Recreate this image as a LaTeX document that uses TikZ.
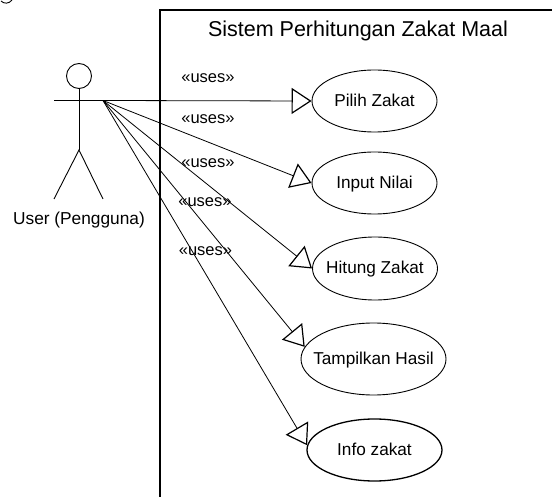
\documentclass[tikz,border=0pt]{standalone}
\usepackage{fontspec}
\setmainfont{Liberation Sans}
\usetikzlibrary{arrows.meta, shapes.geometric}
\tikzset{
    usecase/.style={draw, ellipse, inner sep=-12pt, text height=12pt, text depth=1pt, font=\fontsize{17.2}{20}\selectfont},
    uses/.style={font=\fontsize{16.5}{20}\selectfont},
    assoc/.style={-{Triangle[open, length=20pt, width=26pt, line width=1.2pt]}, line width=0.8pt}
}
\begin{document}
\begin{tikzpicture}[x=1pt, y=-1pt, line width=0.9pt]
    \useasboundingbox (0, 0) rectangle (552, 497);
    \draw (1, 1) .. controls (4, 4) and (9, 4) .. (12, 0);
    \draw[line width=1.3pt] (552, 10) -- (160, 10) -- (160, 497);
    \node[font=\fontsize{21.5}{25}\selectfont] (judul) at (358, 31) {Sistem Perhitungan Zakat Maal};
    \node[draw, circle, minimum size=25pt, inner sep=0pt] (kepala) at (79, 76) {};
    \coordinate (tanganKiri) at (54, 100.5);
    \coordinate (tanganKanan) at (103, 100.5);
    \coordinate (pinggul) at (79, 150);
    \coordinate (kakiKiri) at (54, 199);
    \coordinate (kakiKanan) at (103, 199);
    \draw (tanganKiri) -- (tanganKanan);
    \draw (kepala) -- (pinggul);
    \draw (kakiKiri) -- (pinggul) -- (kakiKanan);
    \node[font=\fontsize{17.3}{20}\selectfont] (user) at (79, 220) {User (Pengguna)};
    \node[usecase, minimum width=125pt, minimum height=62pt] (pilih) at (374.5, 101) {Pilih Zakat};
    \node[usecase, minimum width=125pt, minimum height=62pt] (input) at (374.5, 183) {Input Nilai};
    \node[usecase, minimum width=125pt, minimum height=63pt] (hitung) at (375, 268.5) {Hitung Zakat};
    \node[usecase, minimum width=145pt, minimum height=72pt] (tampil) at (373.5, 359) {Tampilkan Hasil};
    \node[usecase, line width=1.3pt, minimum width=135pt, minimum height=62pt] (info) at (374.5, 450) {Info zakat};
    \draw[assoc] (tanganKanan) -- (pilih.west);
    \draw[assoc] (tanganKanan) -- (input.west);
    \draw[assoc] (tanganKanan) -- (hitung.west);
    \draw[assoc] (tanganKanan) -- (tampil.170);
    \draw[assoc] (tanganKanan) -- (info.176);
    \node[uses] (uses1) at (208, 78) {«uses»};
    \node[uses] (uses2) at (208, 119) {«uses»};
    \node[uses] (uses3) at (208, 163) {«uses»};
    \node[uses] (uses4) at (205, 202) {«uses»};
    \node[uses] (uses5) at (205.5, 251) {«uses»};
\end{tikzpicture}
\end{document}
